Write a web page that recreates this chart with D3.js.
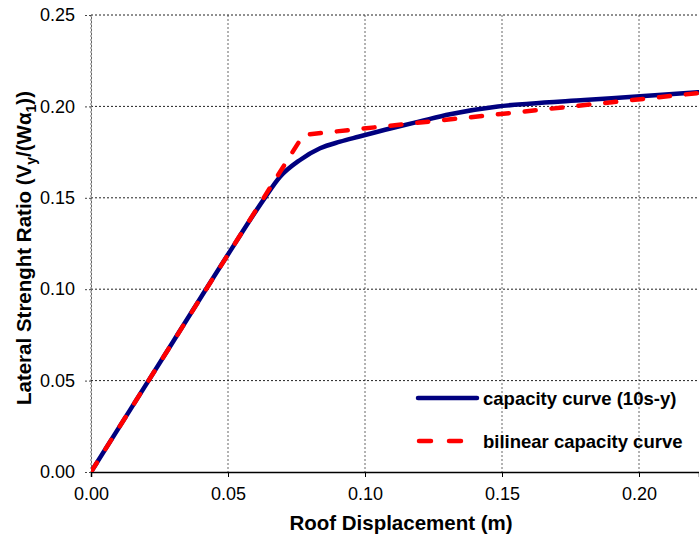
<!DOCTYPE html>
<html><head><meta charset="utf-8">
<script src="https://cdn.jsdelivr.net/npm/d3@7"></script>
<style>body{margin:0;background:#fff}svg{display:block;font-family:"Liberation Sans",Arial,sans-serif}</style>
</head><body>
<svg id="c" width="699" height="538"></svg>
<script>
const capacityX = [0, 0.03, 0.05, 0.063, 0.069, 0.0763, 0.0836, 0.0909, 0.0976, 0.11, 0.12, 0.131, 0.1485, 0.16, 0.18, 0.1978, 0.2215, 0.23];
const capacityY = [0, 0.0714, 0.119, 0.149, 0.1615, 0.1707, 0.1771, 0.1807, 0.1834, 0.1882, 0.1918, 0.1957, 0.2, 0.2015, 0.2035, 0.2053, 0.2077, 0.2085];
const bilinearX = [0, 0.0775, 0.25];
const bilinearY = [0, 0.1844, 0.2118];
const xTicks = [0, 0.05, 0.10, 0.15, 0.20];
const yTicks = [0, 0.05, 0.10, 0.15, 0.20, 0.25];
const seriesNames = ["capacity curve (10s-y)", "bilinear capacity curve"];

const svg = d3.select("#c");
const L = 91, T = 15, B = 472, R = 699;
const x = d3.scaleLinear().domain([0, (R - L) / 2740]).range([L, R]);
const y = d3.scaleLinear().domain([0, 0.25]).range([B, T]);
const FF = "Liberation Sans, Arial, sans-serif";

svg.append("defs").append("clipPath").attr("id", "clip")
  .append("rect").attr("x", L).attr("y", T - 3).attr("width", R - L).attr("height", B - T + 3);

// grid
const g = svg.append("g");
g.selectAll(".vg").data(xTicks).join("line")
  .attr("x1", d => x(d)).attr("x2", d => x(d)).attr("y1", T).attr("y2", B)
  .attr("stroke", "#666").attr("stroke-width", 1).attr("stroke-dasharray", "2,2");
g.selectAll(".hg").data(yTicks.filter(d => d > 0)).join("line")
  .attr("x1", L).attr("x2", R).attr("y1", d => y(d)).attr("y2", d => y(d))
  .attr("stroke", "#222").attr("stroke-width", 1).attr("stroke-dasharray", "2,2");

// axes
const xAxis = svg.append("g").attr("transform", `translate(0,${B})`)
  .call(d3.axisBottom(x).tickValues(xTicks).tickFormat(d3.format(".2f")).tickSize(5).tickPadding(10));
xAxis.select(".domain").attr("stroke", "#000").attr("stroke-width", 1.5);
xAxis.selectAll(".tick line").attr("stroke", "#000");
xAxis.selectAll("text").attr("font-size", 18).attr("fill", "#000").attr("font-family", FF);

const yAxis = svg.append("g").attr("transform", `translate(${L},0)`)
  .call(d3.axisLeft(y).tickValues(yTicks).tickFormat(d3.format(".2f")).tickSize(6).tickPadding(10));
yAxis.select(".domain").attr("stroke", "#666").attr("stroke-dasharray", "2,2");
yAxis.selectAll(".tick line").attr("stroke", "#444").attr("stroke-dasharray", "2,2");
yAxis.selectAll("text").attr("font-size", 18).attr("fill", "#000").attr("font-family", FF);

// lines
const capData = capacityX.map((v, i) => [v, capacityY[i]]);
const bilData = bilinearX.map((v, i) => [v, bilinearY[i]]);
const plot = svg.append("g").attr("clip-path", "url(#clip)");
plot.append("path").datum(capData)
  .attr("d", d3.line().x(d => x(d[0])).y(d => y(d[1])).curve(d3.curveMonotoneX))
  .attr("fill", "none").attr("stroke", "#00007f").attr("stroke-width", 4.5).attr("stroke-linejoin", "round");
plot.append("path").datum(bilData)
  .attr("d", d3.line().x(d => x(d[0])).y(d => y(d[1])))
  .attr("fill", "none").attr("stroke", "#ff0000").attr("stroke-width", 4.5)
  .attr("stroke-dasharray", "11,16").attr("stroke-linecap", "round");

// legend
const leg = svg.append("g");
leg.append("line").attr("x1", 418).attr("x2", 477).attr("y1", 398).attr("y2", 398)
  .attr("stroke", "#00007f").attr("stroke-width", 4.5).attr("stroke-linecap", "round");
leg.append("line").attr("x1", 419).attr("x2", 477).attr("y1", 441).attr("y2", 441)
  .attr("stroke", "#ff0000").attr("stroke-width", 4.5).attr("stroke-linecap", "round").attr("stroke-dasharray", "12,18");
leg.selectAll("text").data(seriesNames).join("text")
  .attr("x", 483).attr("y", (d, i) => 405 + i * 43)
  .attr("font-size", 18.5).attr("font-weight", "bold").attr("fill", "#000").text(d => d);

// axis titles
svg.append("text").attr("x", 401).attr("y", 530).attr("text-anchor", "middle")
  .attr("font-size", 20.5).attr("font-weight", "bold").text("Roof Displacement (m)");
const yt = svg.append("text").attr("transform", "translate(31,248) rotate(-90)").attr("text-anchor", "middle")
  .attr("font-size", 20.5).attr("font-weight", "bold");
yt.append("tspan").text("Lateral Strenght Ratio (V");
yt.append("tspan").attr("font-size", 14).attr("dy", 5).text("y");
yt.append("tspan").attr("dy", -5).text("/(Wα");
yt.append("tspan").attr("font-size", 14).attr("dy", 5).text("1");
yt.append("tspan").attr("dy", -5).text("))");
</script>
</body></html>
